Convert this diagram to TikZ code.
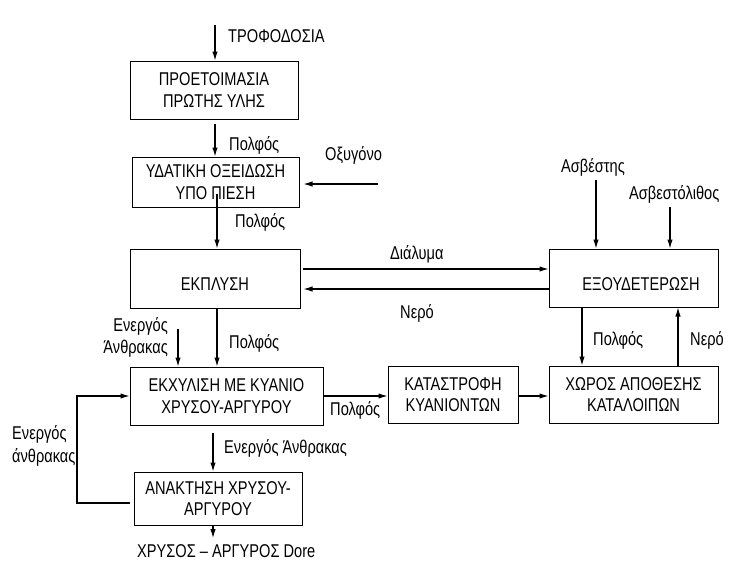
\documentclass[tikz,border=0pt]{standalone}
\usepackage{fontspec}
\setmainfont[FakeStretch=0.79]{Liberation Sans}
\usetikzlibrary{arrows.meta}
\begin{document}
\begin{tikzpicture}[x=1pt,y=-1pt,
  box/.style={draw, line width=1pt, inner sep=0pt, align=center, font=\fontsize{18.5}{21.5}\selectfont},
  lbl/.style={inner sep=0pt, font=\fontsize{18.5}{21.5}\selectfont},
  arr/.style={-{Latex[length=9pt,width=5.5pt]}, line width=1.1pt},
  ln/.style={line width=1.1pt}]
\useasboundingbox (0,0) rectangle (733,576);
% boxes
\node[box, minimum width=168, minimum height=58] (b1) at (214,90) {ΠΡΟΕΤΟΙΜΑΣΙΑ\\ΠΡΩΤΗΣ ΥΛΗΣ};
\node[box, minimum width=167, minimum height=50] (b2) at (215.5,182) {ΥΔΑΤΙΚΗ ΟΞΕΙΔΩΣΗ\\ΥΠΟ ΠΙΕΣΗ};
\node[box, minimum width=170, minimum height=59] (b3) at (215,278.5) {};
\node[lbl, anchor=base] (t3) at (215,290) {ΕΚΠΛΥΣΗ};
\node[box, minimum width=169, minimum height=58] (b4) at (633.5,278) {};
\node[lbl, anchor=base] (t4) at (641,290) {ΕΞΟΥΔΕΤΕΡΩΣΗ};
\node[box, minimum width=193, minimum height=58] (b5) at (226.5,396) {ΕΚΧΥΛΙΣΗ ΜΕ ΚΥΑΝΙΟ\\ΧΡΥΣΟΥ-ΑΡΓΥΡΟΥ};
\node[box, minimum width=168, minimum height=53] (b6) at (218,498.5) {ΑΝΑΚΤΗΣΗ ΧΡΥΣΟΥ-\\ΑΡΓΥΡΟΥ};
\node[box, minimum width=130, minimum height=57] (b7) at (453,394.5) {ΚΑΤΑΣΤΡΟΦΗ\\ΚΥΑΝΙΟΝΤΩΝ};
\node[box, minimum width=169, minimum height=57] (b8) at (633.5,394.5) {ΧΩΡΟΣ ΑΠΟΘΕΣΗΣ\\ΚΑΤΑΛΟΙΠΩΝ};
% free ends
\coordinate (feed) at (215,25);
\coordinate (oxy) at (378,184);
\coordinate (asv) at (596,180);
\coordinate (asl) at (670,207);
\coordinate (carb) at (178,329);
\coordinate (out) at (213,538);
\coordinate (lpa) at (77,503);
\coordinate (lpb) at (77,396);
% connectors
\draw[arr] (feed) -- (feed |- b1.north);
\draw[arr] ([yshift=-4pt]b1.south -| feed) -- (b2.north -| feed);
\draw[arr] ([xshift=1.5pt,yshift=14pt]b2.south) -- ([xshift=2pt]b3.north);
\draw[arr, shorten >=4pt] (oxy) -- (oxy -| b2.east);
\draw[arr] ([xshift=2pt]b3.east |- 0,269) -- (b4.west |- 0,269);
\draw[arr, shorten >=3pt] (b4.west |- 0,289) -- (b3.east |- 0,289);
\draw[arr] (asv) -- (asv |- b4.north);
\draw[arr] (asl) -- (asl |- b4.north);
\draw[arr] (b4.south -| 582,0) -- (b8.north -| 582,0);
\draw[arr] (b8.north -| 678,0) -- (b4.south -| 678,0);
\draw[arr] ([xshift=2pt]b3.south) -- ([xshift=2pt]b3.south |- b5.north);
\draw[arr] (carb) -- (carb |- b5.north);
\draw[arr] (b5.east) -- (b7.west |- b5.east);
\draw[arr] (b7.east |- b5.east) -- (b8.west |- b5.east);
\draw[arr] (out |- 0,433) -- (out |- b6.north);
\draw[arr] (out |- b6.south) -- (out);
\draw[arr] ([xshift=-4pt]b6.west |- lpa) -- (lpa) -- (lpb) -- (b5.west |- lpb);
% labels
\node[lbl, anchor=base west] (l1) at (228,42) {ΤΡΟΦΟΔΟΣΙΑ};
\node[lbl, anchor=base west] (l2) at (229,150) {Πολφός};
\node[lbl, anchor=base west] (l3) at (325,160) {Οξυγόνο};
\node[lbl, anchor=base west] (l4) at (235,227) {Πολφός};
\node[lbl, anchor=base west] (l5) at (390,259) {Διάλυμα};
\node[lbl, anchor=base west] (l6) at (400,318) {Νερό};
\node[lbl, anchor=base west] (l7) at (561,172) {Ασβέστης};
\node[lbl, anchor=base west] (l8) at (629,199) {Ασβεστόλιθος};
\node[lbl, anchor=base west] (l9) at (593,345) {Πολφός};
\node[lbl, anchor=base west] (l10) at (690,345) {Νερό};
\node[lbl, anchor=base east] (l11) at (168,331) {Ενεργός};
\node[lbl, anchor=base east] (l12) at (168,353) {Άνθρακας};
\node[lbl, anchor=base west] (l13) at (229,348) {Πολφός};
\node[lbl, anchor=base west] (l14) at (330,415) {Πολφός};
\node[lbl, anchor=base west] (l15) at (224,453) {Ενεργός Άνθρακας};
\node[lbl, anchor=base west] (l16) at (12,439) {Ενεργός};
\node[lbl, anchor=base west] (l17) at (12,462) {άνθρακας};
\node[lbl, anchor=base west] (l18) at (137,557) {ΧΡΥΣΟΣ – ΑΡΓΥΡΟΣ Dore};
\end{tikzpicture}
\end{document}
